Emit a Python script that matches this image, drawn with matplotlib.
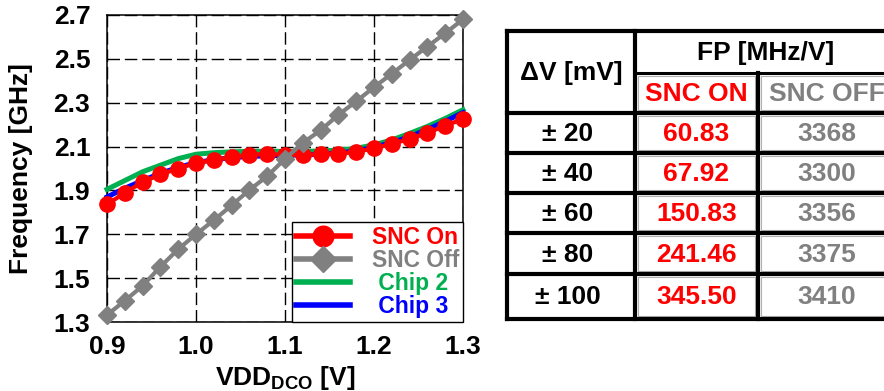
import matplotlib
matplotlib.use("Agg")
import matplotlib.pyplot as plt
import numpy as np

plt.rcParams["font.family"] = ["Liberation Sans", "DejaVu Sans"]
plt.rcParams["font.weight"] = "bold"
plt.rcParams["mathtext.fontset"] = "custom"
plt.rcParams["mathtext.bf"] = "Liberation Sans:bold"
plt.rcParams["mathtext.rm"] = "Liberation Sans"

# Supply voltage sweep [V]
vdd = [0.90, 0.92, 0.94, 0.96, 0.98, 1.00, 1.02, 1.04, 1.06, 1.08, 1.10,
       1.12, 1.14, 1.16, 1.18, 1.20, 1.22, 1.24, 1.26, 1.28, 1.30]

# Oscillation frequency [GHz]
snc_on = [1.836, 1.889, 1.938, 1.973, 2.000, 2.026, 2.038, 2.053, 2.062, 2.067, 2.062,
          2.062, 2.065, 2.068, 2.076, 2.092, 2.112, 2.135, 2.162, 2.195, 2.226]
snc_off = [1.332, 1.397, 1.465, 1.552, 1.632, 1.700, 1.764, 1.832, 1.902, 1.965, 2.044,
           2.117, 2.174, 2.245, 2.306, 2.371, 2.432, 2.495, 2.556, 2.617, 2.680]
chip2 = [1.905, 1.945, 1.985, 2.015, 2.045, 2.065, 2.072, 2.076, 2.078, 2.079, 2.078,
         2.078, 2.080, 2.084, 2.092, 2.108, 2.130, 2.160, 2.192, 2.228, 2.268]
chip3 = [1.870, 1.910, 1.945, 1.978, 2.005, 2.027, 2.040, 2.050, 2.055, 2.058, 2.060,
         2.062, 2.065, 2.070, 2.080, 2.097, 2.118, 2.145, 2.178, 2.215, 2.255]

x_ticks = [0.9, 1.0, 1.1, 1.2, 1.3]
y_ticks = [1.3, 1.5, 1.7, 1.9, 2.1, 2.3, 2.5, 2.7]

# Frequency-pushing table
dv_labels = ["± 20", "± 40", "± 60", "± 80", "± 100"]
fp_on = ["60.83", "67.92", "150.83", "241.46", "345.50"]
fp_off = ["3368", "3300", "3356", "3375", "3410"]

RED = "#ff0000"
GRAY = "#808080"
GREEN = "#00b050"
BLUE = "#0000ff"

fig = plt.figure(figsize=(8.84, 3.91), dpi=100)

# ---------------- table (drawn in pixel coordinates) ----------------
tab = fig.add_axes([0, 0, 1, 1])
tab.set_xlim(0, 884)
tab.set_ylim(391, 0)
tab.axis("off")

x_l, x_c1, x_c2, x_r = 507, 635, 758, 897
y_t, y_h, y_b = 31, 73, 319
row_edges = [113, 153, 193, 233, 274, 319]

# thin gray inner cell outlines
for c0, c1 in [(x_c1, x_c2), (x_c2, x_r)]:
    edges = [y_h] + row_edges
    for r0, r1 in zip(edges[:-1], edges[1:]):
        tab.add_patch(plt.Rectangle((c0 + 3, r0 + 3), c1 - c0 - 6, r1 - r0 - 6,
                                    fill=False, ec="#b0b0b0", lw=0.8))

blk = dict(color="black", lw=3.0, solid_capstyle="projecting")
tab.plot([x_l, x_r], [y_t, y_t], **blk)
tab.plot([x_l, x_r], [y_b, y_b], **blk)
tab.plot([x_l, x_l], [y_t, y_b], **blk)
tab.plot([x_c1, x_c1], [y_t, y_b], **blk)
tab.plot([x_c2, x_c2], [y_h, y_b], **blk)
tab.plot([x_c1, x_r], [y_h, y_h], color="black", lw=2.2)
for ye in row_edges[:-1]:
    tab.plot([x_l, x_r], [ye, ye], **blk)

fs_t = 19
tab.text((x_l + x_c1) / 2, (y_t + row_edges[0]) / 2 + 1, "ΔV [mV]", ha="center",
         va="center", fontsize=fs_t, fontweight="bold", color="black")
tab.text((x_c1 + x_r) / 2, (y_t + y_h) / 2 + 1, "FP [MHz/V]", ha="center",
         va="center", fontsize=fs_t, fontweight="bold", color="black")
tab.text((x_c1 + x_c2) / 2, (y_h + row_edges[0]) / 2 + 1, "SNC ON", ha="center",
         va="center", fontsize=fs_t, fontweight="bold", color=RED)
tab.text((x_c2 + x_r) / 2 - 1, (y_h + row_edges[0]) / 2 + 1, "SNC OFF", ha="center",
         va="center", fontsize=fs_t, fontweight="bold", color=GRAY)
for i in range(len(dv_labels)):
    yc = (row_edges[i] + row_edges[i + 1]) / 2 + 1
    tab.text((x_l + x_c1) / 2 - 3, yc, dv_labels[i], ha="center", va="center",
             fontsize=fs_t, fontweight="bold", color="black")
    tab.text((x_c1 + x_c2) / 2, yc, fp_on[i], ha="center", va="center",
             fontsize=fs_t, fontweight="bold", color=RED)
    tab.text((x_c2 + x_r) / 2 - 1, yc, fp_off[i], ha="center", va="center",
             fontsize=fs_t, fontweight="bold", color=GRAY)

# ---------------- frequency vs supply plot ----------------
ax = fig.add_axes([107 / 884, 69 / 391, 356 / 884, 307 / 391])
ax.plot(vdd, chip2, color=GREEN, lw=3.6, zorder=3, label=" Chip 2", clip_on=False)
ax.plot(vdd, chip3, color=BLUE, lw=3.6, zorder=3, label=" Chip 3", clip_on=False)
ax.plot(vdd, snc_on, color=RED, lw=3.0, marker="o", ms=11, zorder=4,
        label="SNC On", clip_on=False)
ax.plot(vdd, snc_off, color=GRAY, lw=3.0, marker="D", ms=9.5, zorder=5,
        label="SNC Off", clip_on=False)

ax.set_xlim(0.9, 1.3)
ax.set_ylim(1.3, 2.7)
ax.set_xticks(x_ticks)
ax.set_yticks(y_ticks)
ax.set_xticklabels([f"{v:.1f}" for v in x_ticks])
ax.set_yticklabels([f"{v:.1f}" for v in y_ticks])
ax.tick_params(axis="both", length=0, labelsize=19)
ax.tick_params(axis="x", pad=9)
ax.tick_params(axis="y", pad=12)
for lab in ax.get_xticklabels() + ax.get_yticklabels():
    lab.set_fontweight("bold")
ax.grid(True, color="black", lw=1.0, linestyle=(0, (9, 3.5)))
for sp in ax.spines.values():
    sp.set_linewidth(1.1)
    sp.set_color("black")

ax.set_ylabel("Frequency [GHz]", fontsize=19, fontweight="bold", labelpad=15)
ax.set_xlabel(r"$\mathbf{VDD_{DCO}}$ [V]", fontsize=19, fontweight="bold", labelpad=4)

handles, labels = ax.get_legend_handles_labels()
order = [2, 3, 0, 1]
leg = ax.legend([handles[i] for i in order], [labels[i] for i in order],
                loc="lower right", borderaxespad=0, frameon=True,
                fancybox=False, framealpha=1, edgecolor="black",
                handlelength=2.35, handletextpad=0.95, labelspacing=0.0,
                borderpad=0.18, markerscale=1.35,
                prop={"weight": "bold", "size": 16.5})
leg.get_frame().set_linewidth(1.0)
leg.set_zorder(10)
for t, c in zip(leg.get_texts(), [RED, GRAY, GREEN, BLUE]):
    t.set_color(c)
for h in leg.legend_handles:
    h.set_linewidth(4.0)

fig.savefig("out.png", dpi=100)
